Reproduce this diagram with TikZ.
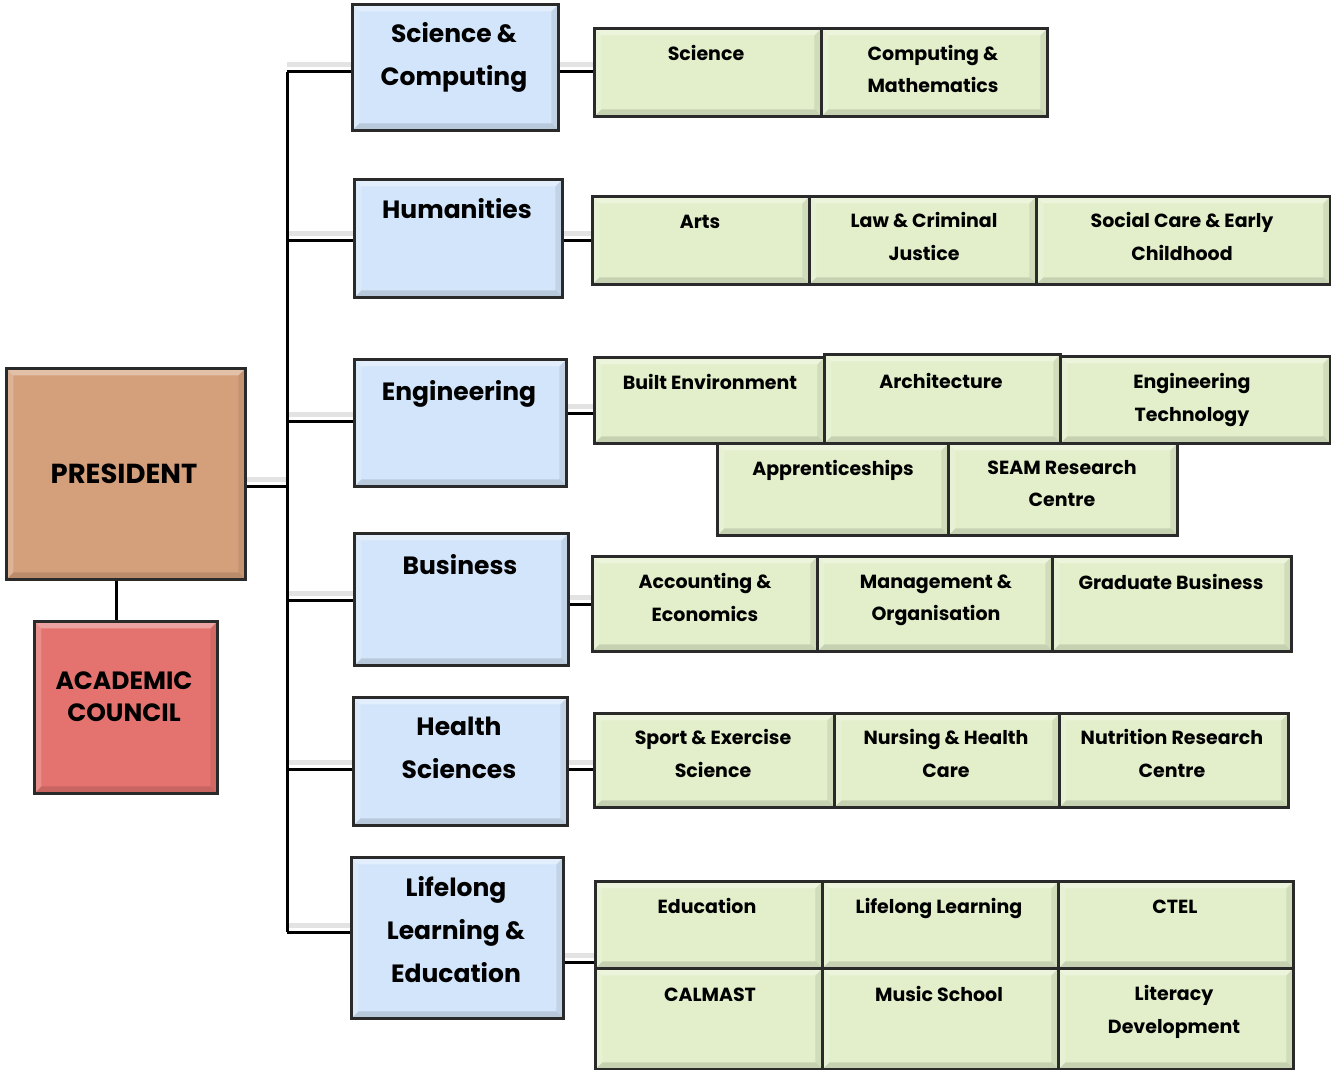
\documentclass[tikz,border=0pt]{standalone}
\usepackage{fontspec}
\setmainfont{Poppins}
\definecolor{presc}{HTML}{D4A07C}
\definecolor{councilc}{HTML}{E4736F}
\definecolor{deptc}{HTML}{D3E5FB}
\definecolor{subc}{HTML}{E2EFCA}
\definecolor{edgec}{HTML}{2A2A2A}
\begin{document}
\begin{tikzpicture}[x=1pt,y=-1pt,
  box/.style={draw=edgec, line width=2.8pt, inner sep=0pt, anchor=north west,
    path picture={
      \fill[white,opacity=.35] (path picture bounding box.north west) -- (path picture bounding box.north east)
        -- ([shift={(-7pt,-7pt)}]path picture bounding box.north east) -- ([shift={(7pt,-7pt)}]path picture bounding box.north west) -- cycle;
      \fill[white,opacity=.2] (path picture bounding box.north west) -- (path picture bounding box.south west)
        -- ([shift={(7pt,7pt)}]path picture bounding box.south west) -- ([shift={(7pt,-7pt)}]path picture bounding box.north west) -- cycle;
      \fill[black,opacity=.12] (path picture bounding box.south west) -- (path picture bounding box.south east)
        -- ([shift={(-7pt,7pt)}]path picture bounding box.south east) -- ([shift={(7pt,7pt)}]path picture bounding box.south west) -- cycle;
      \fill[black,opacity=.08] (path picture bounding box.north east) -- (path picture bounding box.south east)
        -- ([shift={(-7pt,7pt)}]path picture bounding box.south east) -- ([shift={(-7pt,-7pt)}]path picture bounding box.north east) -- cycle;
    }},
  pbox/.style={box, fill=presc},
  cbox/.style={box, fill=councilc},
  dbox/.style={box, fill=deptc},
  sbox/.style={box, fill=subc},
  txtbase/.style={align=center, inner sep=0pt, execute at begin node=\strut, execute at end node=\strut},
  stxt/.style={txtbase, font=\bfseries\fontsize{19}{32.5}\selectfont},
  dtxt/.style={txtbase, font=\bfseries\fontsize{25}{43}\selectfont},
  ptxt/.style={txtbase, font=\bfseries\fontsize{25}{32}\selectfont},
  prtxt/.style={txtbase, font=\bfseries\fontsize{27.5}{32}\selectfont},
  conn/.style={line width=3pt, black},
  shade/.style={line width=5pt, gray!22},
]
\newcommand\ubox[6]{\node[#1, minimum width={#4pt-#2pt}, minimum height={#5pt-#3pt}] (#6) at (#2,#3) {};}
\fill[white] (0,0) rectangle (1331,1070);
\path[use as bounding box] (0,0) rectangle (1331,1070);

% coordinates for trunk
\coordinate (ttop) at (287,72);
\coordinate (tbot) at (287,932);

% ---- shadows of connectors
\foreach \yy/\xa/\xb in {72/287/351, 240/287/353, 421/287/353, 600/287/353, 769/287/352, 932/287/350,
   72/557/593, 240/561/591, 413/565/593, 604/567/591, 769/566/593, 962/562/594, 486/244/287}
  \draw[shade] (\xa,\yy-7) -- (\xb,\yy-7);

% ---- boxes
\ubox{pbox}{5}{367}{244}{578}{pres}
\ubox{cbox}{33}{620}{216}{792}{council}

\ubox{dbox}{351}{3}{557}{129}{sc}
\ubox{dbox}{353}{178}{561}{296}{hum}
\ubox{dbox}{353}{358}{565}{485}{eng}
\ubox{dbox}{353}{532}{567}{664}{bus}
\ubox{dbox}{352}{696}{566}{824}{hs}
\ubox{dbox}{350}{856}{562}{1017}{lle}

\ubox{sbox}{593}{27}{820}{115}{sci}
\ubox{sbox}{820}{27}{1046}{115}{cm}

\ubox{sbox}{591}{195}{808}{283}{arts}
\ubox{sbox}{808}{195}{1035}{283}{law}
\ubox{sbox}{1035}{195}{1329}{283}{soc}

\ubox{sbox}{593}{356}{823}{442}{be}
\ubox{sbox}{823}{353}{1059}{442}{arch}
\ubox{sbox}{1059}{355}{1329}{442}{et}
\ubox{sbox}{716}{442}{947}{534}{app}
\ubox{sbox}{947}{442}{1176}{534}{seam}

\ubox{sbox}{591}{555}{816}{650}{acc}
\ubox{sbox}{816}{555}{1051}{650}{mgt}
\ubox{sbox}{1051}{555}{1290}{650}{gb}

\ubox{sbox}{593}{712}{833}{806}{sport}
\ubox{sbox}{833}{712}{1058}{806}{nurs}
\ubox{sbox}{1058}{712}{1287}{806}{nutr}

\ubox{sbox}{594}{880}{821}{967}{edu}
\ubox{sbox}{821}{880}{1057}{967}{ll}
\ubox{sbox}{1057}{880}{1292}{967}{ctel}
\ubox{sbox}{594}{967}{821}{1068}{calm}
\ubox{sbox}{821}{967}{1057}{1068}{music}
\ubox{sbox}{1057}{967}{1292}{1068}{lit}

% ---- connectors
\draw[conn] (ttop) -- (tbot);
\draw[conn] (pres.east |- 0,486) -- (ttop |- 0,486);
\draw[conn] (pres.south -| 116,0) -- (council.north -| 116,0);
\draw[conn] (ttop) -- (sc.west |- ttop);
\draw[conn] (ttop |- 0,240) -- (hum.west |- 0,240);
\draw[conn] (ttop |- 0,421) -- (eng.west |- 0,421);
\draw[conn] (ttop |- 0,600) -- (bus.west |- 0,600);
\draw[conn] (ttop |- 0,769) -- (hs.west |- 0,769);
\draw[conn] (tbot) -- (lle.west |- 0,932);

\draw[conn] (sc.east |- 0,72) -- (sci.west |- 0,72);
\draw[conn] (hum.east |- 0,240) -- (arts.west |- 0,240);
\draw[conn] (eng.east |- 0,413) -- (be.west |- 0,413);
\draw[conn] (bus.east |- 0,604) -- (acc.west |- 0,604);
\draw[conn] (hs.east |- 0,769) -- (sport.west |- 0,769);
\draw[conn] (lle.east |- 0,962) -- (edu.west |- 0,962);

% ---- texts
\node[prtxt] (t-pres) at (124,477) {PRESIDENT};
\node[ptxt] (t-council) at (124,701) {ACADEMIC\\COUNCIL};

\node[dtxt] (t-sc) at (454,60.5) {Science \&\\Computing};
\node[dtxt] (t-hum) at (457,210) {Humanities};
\node[dtxt] (t-eng) at (459,392) {Engineering};
\node[dtxt] (t-bus) at (460,566) {Business};
\node[dtxt] (t-hs) at (459,754) {Health\\Sciences};
\node[dtxt] (t-lle) at (456,936) {Lifelong\\Learning \&\\Education};

\node[stxt] (t-sci) at (706,54) {Science};
\node[stxt] (t-cm) at (933,74) {Computing \&\\Mathematics};
\node[stxt] (t-arts) at (700,222) {Arts};
\node[stxt] (t-law) at (924,241.5) {Law \& Criminal\\Justice};
\node[stxt] (t-soc) at (1182,241.5) {Social Care \& Early\\Childhood};
\node[stxt] (t-be) at (710,383) {Built Environment};
\node[stxt] (t-arch) at (941,382) {Architecture};
\node[stxt] (t-et) at (1192,402.5) {Engineering\\Technology};
\node[stxt] (t-app) at (833,469) {Apprenticeships};
\node[stxt] (t-seam) at (1062,488.5) {SEAM Research\\Centre};
\node[stxt] (t-acc) at (705,602.5) {Accounting \&\\Economics};
\node[stxt] (t-mgt) at (936,602.5) {Management \&\\Organisation};
\node[stxt] (t-gb) at (1171,583) {Graduate Business};
\node[stxt] (t-sport) at (713,758.5) {Sport \& Exercise\\Science};
\node[stxt] (t-nurs) at (946,758.5) {Nursing \& Health\\Care};
\node[stxt] (t-nutr) at (1172,758.5) {Nutrition Research\\Centre};
\node[stxt] (t-edu) at (707,907) {Education};
\node[stxt] (t-ll) at (939,907) {Lifelong Learning};
\node[stxt] (t-ctel) at (1175,907) {CTEL};
\node[stxt] (t-calm) at (710,995) {CALMAST};
\node[stxt] (t-music) at (939,995) {Music School};
\node[stxt] (t-lit) at (1174,1014.5) {Literacy\\Development};
\end{tikzpicture}
\end{document}
